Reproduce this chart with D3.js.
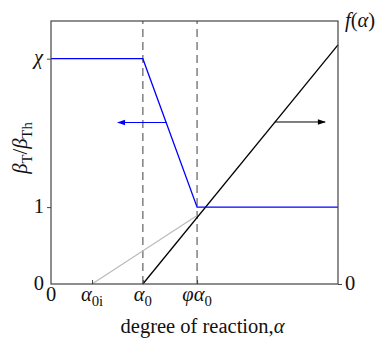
<!DOCTYPE html>
<html>
<head>
<meta charset="utf-8">
<script src="https://cdn.jsdelivr.net/npm/d3@7"></script>
<style>
  body { margin: 0; background: #fff; }
  text { font-family: "Liberation Serif", "DejaVu Serif", serif; }
</style>
</head>
<body>
<div id="chart"></div>
<script>
// degree of reaction positions
var alpha0i = 1.43, alpha0 = 3.2, phiAlpha0 = 5.09, alphaMax = 10;
var chi = 2.93;
// beta_T / beta_Th (left axis)
var betaX = [0, alpha0, phiAlpha0, alphaMax];
var betaY = [chi, chi, 1, 1];
// f(alpha) (right axis)
var fX = [alpha0, alphaMax];
var fY = [0, 0.909];
var fInitX = [alpha0i, phiAlpha0];
var fInitY = [0, 0.26];
// arrows
var leftArrow = {y: 2.1, from: 4.03, to: 2.33};
var rightArrow = {y: 0.616, from: 7.8, to: 9.55};

var W = 378, H = 338;
var m = {left: 51, right: 40, top: 21, bottom: 54};

var svg = d3.select("#chart").append("svg")
    .attr("width", W).attr("height", H);

var x = d3.scaleLinear().domain([0, alphaMax]).range([m.left, W - m.right]);
var yL = d3.scaleLinear().domain([0, 3.42]).range([H - m.bottom, m.top]);
var yR = d3.scaleLinear().domain([0, 1]).range([H - m.bottom, m.top]);

var defs = svg.append("defs");
function marker(id, color) {
    defs.append("marker").attr("id", id)
        .attr("viewBox", "0 0 10 10").attr("refX", 9).attr("refY", 5)
        .attr("markerWidth", 17).attr("markerHeight", 8)
        .attr("markerUnits", "userSpaceOnUse")
        .attr("orient", "auto")
        .append("path").attr("d", "M0,1.5L10,5L0,8.5Z").attr("fill", color);
}
marker("arrBlue", "#0000ff");
marker("arrBlack", "#000");

// dashed guides
svg.selectAll("line.guide").data([alpha0, phiAlpha0]).enter().append("line")
    .attr("class", "guide")
    .attr("x1", d => x(d)).attr("x2", d => x(d))
    .attr("y1", yL(0)).attr("y2", yL.range()[1])
    .attr("stroke", "#777").attr("stroke-width", 1.4)
    .attr("stroke-dasharray", "8,5");

var lineL = d3.line().x(d => x(d[0])).y(d => yL(d[1]));
var lineR = d3.line().x(d => x(d[0])).y(d => yR(d[1]));

svg.append("path").datum(d3.zip(fInitX, fInitY)).attr("d", lineR)
    .attr("fill", "none").attr("stroke", "#bbb").attr("stroke-width", 1.2);
svg.append("path").datum(d3.zip(fX, fY)).attr("d", lineR)
    .attr("fill", "none").attr("stroke", "#000").attr("stroke-width", 1.3);
svg.append("path").datum(d3.zip(betaX, betaY)).attr("d", lineL)
    .attr("fill", "none").attr("stroke", "#0000ff").attr("stroke-width", 1.3);

svg.append("line")
    .attr("x1", x(leftArrow.from)).attr("x2", x(leftArrow.to))
    .attr("y1", yL(leftArrow.y)).attr("y2", yL(leftArrow.y))
    .attr("stroke", "#0000ff").attr("stroke-width", 1)
    .attr("marker-end", "url(#arrBlue)");
svg.append("line")
    .attr("x1", x(rightArrow.from)).attr("x2", x(rightArrow.to))
    .attr("y1", yR(rightArrow.y)).attr("y2", yR(rightArrow.y))
    .attr("stroke", "#000").attr("stroke-width", 1)
    .attr("marker-end", "url(#arrBlack)");

// frame
svg.append("rect")
    .attr("x", m.left).attr("y", m.top)
    .attr("width", x.range()[1] - m.left).attr("height", yL(0) - m.top)
    .attr("fill", "none").attr("stroke", "#444").attr("stroke-width", 1.2);

// axes (tick marks only; labels set below)
var xAxis = d3.axisTop(x).tickValues([alpha0i, alpha0, phiAlpha0]).tickSize(4).tickFormat("");
svg.append("g").attr("transform", `translate(0,${yL(0)})`).call(xAxis)
    .call(g => g.select(".domain").remove())
    .selectAll("line").attr("stroke", "#444");
var yAxisL = d3.axisLeft(yL).tickValues([1, chi]).tickSize(4).tickFormat("");
svg.append("g").attr("transform", `translate(${m.left},0)`).call(yAxisL)
    .call(g => g.select(".domain").remove())
    .selectAll("line").attr("stroke", "#444");
var yAxisR = d3.axisRight(yR).tickValues([0]).tickSize(4).tickFormat("");
svg.append("g").attr("transform", `translate(${x.range()[1]},0)`).call(yAxisR)
    .call(g => g.select(".domain").remove())
    .selectAll("line").attr("stroke", "#444");

var fs = 20.5;
function label(tx, ty, anchor, parts) {
    var t = svg.append("text").attr("x", tx).attr("y", ty)
        .attr("text-anchor", anchor).attr("font-size", fs).attr("fill", "#111");
    parts.forEach(p => {
        var s = t.append("tspan").text(p.t);
        if (p.it) s.attr("font-style", "italic");
        if (p.sub) s.attr("font-size", fs * 0.72).attr("dy", 5);
        if (p.up) s.attr("dy", -5);
    });
    return t;
}

// x tick labels
label(x(0), yL(0) + 17, "middle", [{t: "0"}]);
label(x(alpha0i), yL(0) + 17, "middle", [{t: "α", it: 1}, {t: "0i", sub: 1}]);
label(x(alpha0), yL(0) + 17, "middle", [{t: "α", it: 1}, {t: "0", sub: 1}]);
label(x(phiAlpha0), yL(0) + 17, "middle", [{t: "φα", it: 1}, {t: "0", sub: 1}]);
label((m.left + x.range()[1]) / 2 + 8, 333, "middle", [{t: "degree of reaction,"}, {t: "α", it: 1}]);

// left tick labels
label(m.left - 7, yL(0) + 6, "end", [{t: "0"}]);
label(m.left - 7, yL(1) + 6, "end", [{t: "1"}]);
label(m.left - 8, yL(chi) + 5, "end", [{t: "χ", it: 1}]);

// right axis labels
label(x.range()[1] + 7, yR(0) + 6, "start", [{t: "0"}]);
label(x.range()[1] + 7, 27, "start", [{t: "f", it: 1}, {t: "("}, {t: "α", it: 1}, {t: ")"}]);

// y label
label(0, 0, "middle", [{t: "β", it: 1}, {t: "T", sub: 1}, {t: "/", up: 1}, {t: "β", it: 1}, {t: "Th", sub: 1}])
    .attr("transform", "translate(27,148) rotate(-90)");
</script>
</body>
</html>
